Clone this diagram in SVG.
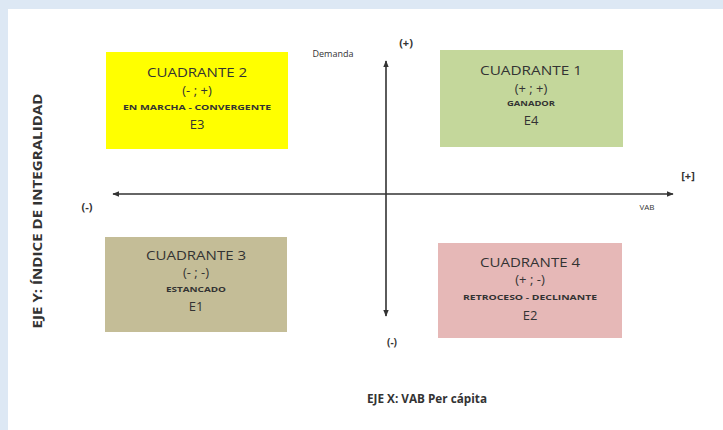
<svg xmlns="http://www.w3.org/2000/svg" width="723" height="430" viewBox="0 0 723 430">
<defs>
<style>
text{font-family:"Open Sans","Liberation Sans",sans-serif;fill:#333;text-anchor:middle}
.t{font-size:13px}
.s{font-size:7px;font-weight:bold}
.ax{stroke:#333;stroke-width:1.6;fill:none}
.box{stroke:none}
</style>
<marker id="ah" viewBox="0 0 10 10" refX="9" refY="5" markerWidth="7" markerHeight="7" orient="auto-start-reverse" markerUnits="userSpaceOnUse">
<path d="M0,1 L10,5 L0,9 Z" fill="#333"/>
</marker>
</defs>
<rect x="0" y="0" width="723" height="430" fill="#dde8f4"/>
<rect x="8" y="9" width="715" height="421" fill="#ffffff"/>

<g id="q2">
<rect class="box" x="106" y="52" width="182" height="97" fill="#ffff00"/>
<text class="t" x="197" y="77" textLength="100" lengthAdjust="spacingAndGlyphs">CUADRANTE 2</text>
<text class="t" x="197" y="95">(- ; +)</text>
<text class="s" x="197" y="110" textLength="148" lengthAdjust="spacingAndGlyphs">EN MARCHA  - CONVERGENTE</text>
<text class="t" x="197" y="129">E3</text>
</g>
<g id="q1">
<rect class="box" x="440" y="50" width="183" height="97" fill="#c4d79b"/>
<text class="t" x="531" y="75" textLength="102" lengthAdjust="spacingAndGlyphs">CUADRANTE 1</text>
<text class="t" x="531" y="93">(+ ; +)</text>
<text class="s" x="531" y="106" textLength="48" lengthAdjust="spacingAndGlyphs">GANADOR</text>
<text class="t" x="531" y="125">E4</text>
</g>
<g id="q3">
<rect class="box" x="105" y="237" width="182" height="95" fill="#c4bd97"/>
<text class="t" x="196" y="260" textLength="100" lengthAdjust="spacingAndGlyphs">CUADRANTE 3</text>
<text class="t" x="196" y="277">(- ; -)</text>
<text class="s" x="196" y="292" textLength="60" lengthAdjust="spacingAndGlyphs">ESTANCADO</text>
<text class="t" x="196" y="311">E1</text>
</g>
<g id="q4">
<rect class="box" x="438" y="243" width="184" height="95" fill="#e6b8b7"/>
<text class="t" x="530" y="267" textLength="100" lengthAdjust="spacingAndGlyphs">CUADRANTE 4</text>
<text class="t" x="530" y="284">(+ ; -)</text>
<text class="s" x="530" y="300" textLength="134" lengthAdjust="spacingAndGlyphs">RETROCESO - DECLINANTE</text>
<text class="t" x="530" y="320">E2</text>
</g>

<g id="connectors">
<line class="ax" x1="386" y1="316" x2="386" y2="61" marker-start="url(#ah)" marker-end="url(#ah)"/>
<line class="ax" x1="113" y1="194" x2="673" y2="194" marker-start="url(#ah)" marker-end="url(#ah)"/>
</g>

<g id="labels">
<text x="333" y="57" style="font-size:9px">Demanda</text>
<text x="406" y="47" style="font-size:11px;font-weight:bold">(+)</text>
<text x="87" y="211" style="font-size:11px;font-weight:bold">(-)</text>
<text x="688" y="180" style="font-size:11px;font-weight:bold">[+]</text>
<text x="647" y="210" style="font-size:8px">VAB</text>
<text x="392" y="346" style="font-size:10px;font-weight:bold">(-)</text>
<text x="427" y="403" style="font-size:13px;font-weight:bold" textLength="120" lengthAdjust="spacingAndGlyphs">EJE X: VAB Per cápita</text>
<text transform="translate(42,211) rotate(-90)" style="font-size:13px;font-weight:bold" textLength="235" lengthAdjust="spacingAndGlyphs">EJE Y: ÍNDICE DE INTEGRALIDAD</text>
</g>
</svg>
